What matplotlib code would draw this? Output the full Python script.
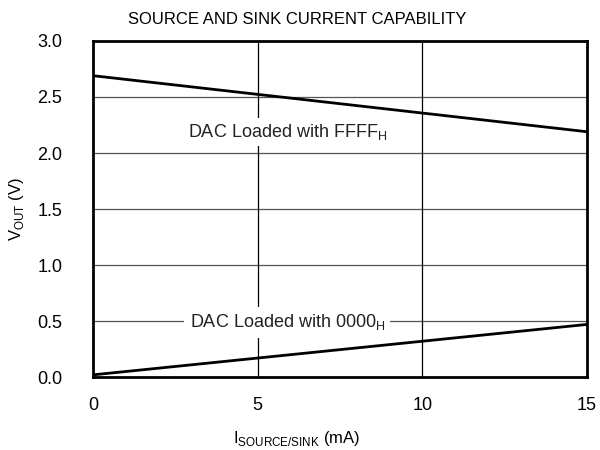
import numpy as np
import matplotlib.pyplot as plt

plt.rcParams['font.family'] = ['Liberation Sans', 'DejaVu Sans']

current_ma = [0, 15]
vout_ffff = [2.69, 2.19]
vout_0000 = [0.02, 0.47]
x_ticks = [0, 5, 10, 15]
y_ticks = [0.0, 0.5, 1.0, 1.5, 2.0, 2.5, 3.0]

fig = plt.figure(figsize=(6, 4.5), dpi=100)
ax = fig.add_axes([0.155, 0.162, 0.823, 0.747])

for yv in y_ticks[1:-1]:
    ax.axhline(yv, color='#555555', lw=0.9, zorder=1)
for xv in x_ticks[1:-1]:
    ax.axvline(xv, color='black', lw=0.9, zorder=1)

ax.plot(current_ma, vout_ffff, color='black', lw=2, zorder=3)
ax.plot(current_ma, vout_0000, color='black', lw=2, zorder=3)

ax.text(5.9, 2.19, r'DAC Loaded with FFFF$_\mathregular{H}$', ha='center', va='center',
        fontsize=13, color='#222222', zorder=4,
        bbox=dict(facecolor='white', edgecolor='none', pad=3))
ax.text(5.9, 0.49, r'DAC Loaded with 0000$_\mathregular{H}$', ha='center', va='center',
        fontsize=13, color='#222222', zorder=4,
        bbox=dict(facecolor='white', edgecolor='none', pad=4))

ax.set_xlim(0, 15)
ax.set_ylim(0, 3.0)
ax.set_xticks(x_ticks)
ax.set_yticks(y_ticks)
ax.set_xticklabels([str(v) for v in x_ticks])
ax.set_yticklabels(['%.1f' % v for v in y_ticks])
ax.tick_params(axis='x', length=0, pad=14, labelsize=13)
ax.tick_params(axis='y', length=0, pad=22, labelsize=13)
for s in ax.spines.values():
    s.set_linewidth(2)

# title and x label sit centred on the figure, not the axes
fig.text(0.495, 0.957, 'SOURCE AND SINK CURRENT CAPABILITY', fontsize=12,
         ha='center', va='center')
ax.set_xlabel(r'I$_\mathregular{SOURCE/SINK}$ (mA)', fontsize=12, labelpad=10)
ax.xaxis.set_label_coords(0.413, -0.155)
ax.set_ylabel(r'V$_\mathregular{OUT}$ (V)', fontsize=12, labelpad=8)

fig.savefig('out.png', dpi=100)
